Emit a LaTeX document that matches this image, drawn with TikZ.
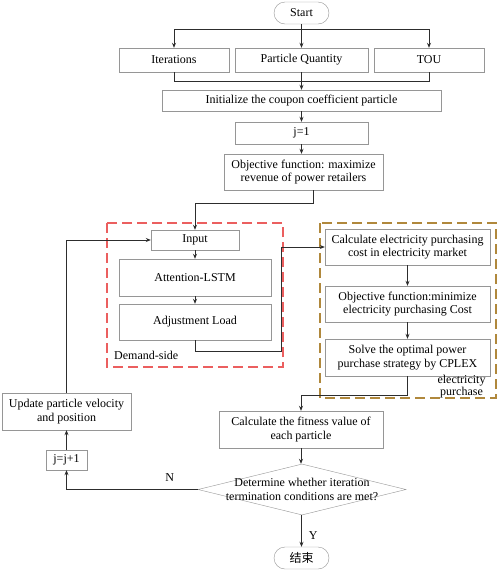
\documentclass[tikz,border=0pt]{standalone}
\usepackage{fontspec}
\setmainfont{Liberation Serif}
\newfontfamily\cjk{Noto Sans CJK SC}
\usetikzlibrary{shapes.geometric,arrows.meta}
\definecolor{boxline}{RGB}{150,150,150}
\definecolor{conn}{RGB}{45,45,45}
\definecolor{dred}{RGB}{235,95,95}
\definecolor{dbrown}{RGB}{176,136,60}
\tikzset{
  box/.style={draw=boxline, fill=white, align=center, inner sep=0pt, font=\fontsize{12}{13.5}\selectfont},
  term/.style={box, rounded corners=11pt, minimum width=55pt, minimum height=22pt},
  arr/.style={draw=conn, line width=0.7pt, -{Stealth[length=5pt,width=4pt]}},
  ln/.style={draw=conn, line width=0.7pt},
  grp/.style={dashed, dash pattern=on 10pt off 5pt},
  lbl/.style={align=center, inner sep=0pt, font=\fontsize{12}{12}\selectfont}
}
\begin{document}
\begin{tikzpicture}[x=1pt,y=-1pt]
\useasboundingbox (0,0) rectangle (498,571);
% groups
\draw[grp, draw=dred, line width=1.1pt] (107,223) rectangle (283,367);
\draw[grp, draw=dbrown, line width=1.2pt] (320,223) rectangle (496,398);
% nodes
\node[term] (start) at (301.5,13) {Start};
\node[box, minimum width=110pt, minimum height=24pt] (iter) at (174,60) {Iterations};
\node[box, minimum width=133pt, minimum height=24pt] (pq) at (301.5,60) {Particle Quantity};
\node[box, minimum width=110pt, minimum height=24pt] (tou) at (429,60) {TOU};
\node[box, minimum width=279pt, minimum height=21pt] (init) at (301.5,100.5) {Initialize the coupon coefficient particle};
\node[box, minimum width=133pt, minimum height=22pt] (j1) at (301.5,133) {j=1};
\node[box, minimum width=159pt, minimum height=36pt] (obj) at (303.5,172) {Objective function: maximize\\revenue of power retailers};
\node[box, minimum width=88pt, minimum height=20pt] (input) at (195,240) {Input};
\node[box, minimum width=152pt, minimum height=37pt] (lstm) at (195,277.5) {Attention-LSTM};
\node[box, minimum width=152pt, minimum height=36pt] (adj) at (195,322) {Adjustment Load};
\node[box, minimum width=165pt, minimum height=36pt] (calc) at (407.5,247) {Calculate electricity purchasing\\cost in electricity market};
\node[box, minimum width=165pt, minimum height=36pt] (omin) at (407.5,304) {Objective function:minimize\\electricity purchasing Cost};
\node[box, minimum width=165pt, minimum height=37pt] (solve) at (407.5,357.5) {Solve the optimal power\\purchase strategy by CPLEX};
\node[box, minimum width=164pt, minimum height=37pt] (fit) at (301,429.5) {Calculate the fitness value of\\each particle};
\node[draw=boxline, fill=white, diamond, minimum width=208pt, minimum height=51pt, inner sep=0pt,
  label={[lbl, font=\fontsize{12}{13.5}\selectfont]center:Determine whether iteration\\termination conditions are met?}] (dec) at (302,489.5) {};
\node[box, minimum width=41pt, minimum height=20pt] (jj) at (66.5,460) {j=j+1};
\node[box, minimum width=129pt, minimum height=37pt] (upd) at (66.5,411.5) {Update particle velocity\\and position};
\node[term] (end) at (301.5,558) {\cjk 结束};
% group labels
\node[lbl, anchor=west] (dlab) at (114,355) {Demand-side};
\node[lbl] (elab) at (461.5,386.5) {electricity\\purchase};
% coordinates
\coordinate (jb) at (301.5,81);
\coordinate (c1) at (281,247);
% connectors
\draw[arr] (start) -- (pq);
\draw[arr] (start.south) -- ++(0,5) -| (iter.north);
\draw[arr] (start.south) -- ++(0,5) -| (tou.north);
\draw[ln] (iter.south) |- (jb);
\draw[ln] (tou.south) |- (jb);
\draw[arr] (pq.south) -- (init.north);
\draw[arr] (init) -- (j1);
\draw[arr] (j1.south) -- (j1.south |- obj.north);
\draw[arr] ([xshift=9.5pt]obj.south) -- ++(0,13) -| (input.north);
\draw[arr] (input) -- (lstm);
\draw[arr] (lstm) -- (adj);
\draw[arr] (adj.south) -- ++(0,11) -| (c1) -- (calc.west);
\draw[arr] (calc) -- (omin);
\draw[arr] (omin) -- (solve);
\draw[arr] (solve.south) -- ++(0,19) -| (fit.north);
\draw[arr] (fit.south) -- (fit.south |- dec.north);
\draw[arr] (dec.west) -| node[lbl, pos=0.107, above=8pt] {N} (jj.south);
\draw[arr] (jj) -- (upd);
\draw[arr] (upd.north) |- (input.west);
\draw[arr] (dec.south -| end.north) -- node[lbl, right=7pt, pos=0.65] {Y} (end.north);
\end{tikzpicture}
\end{document}
